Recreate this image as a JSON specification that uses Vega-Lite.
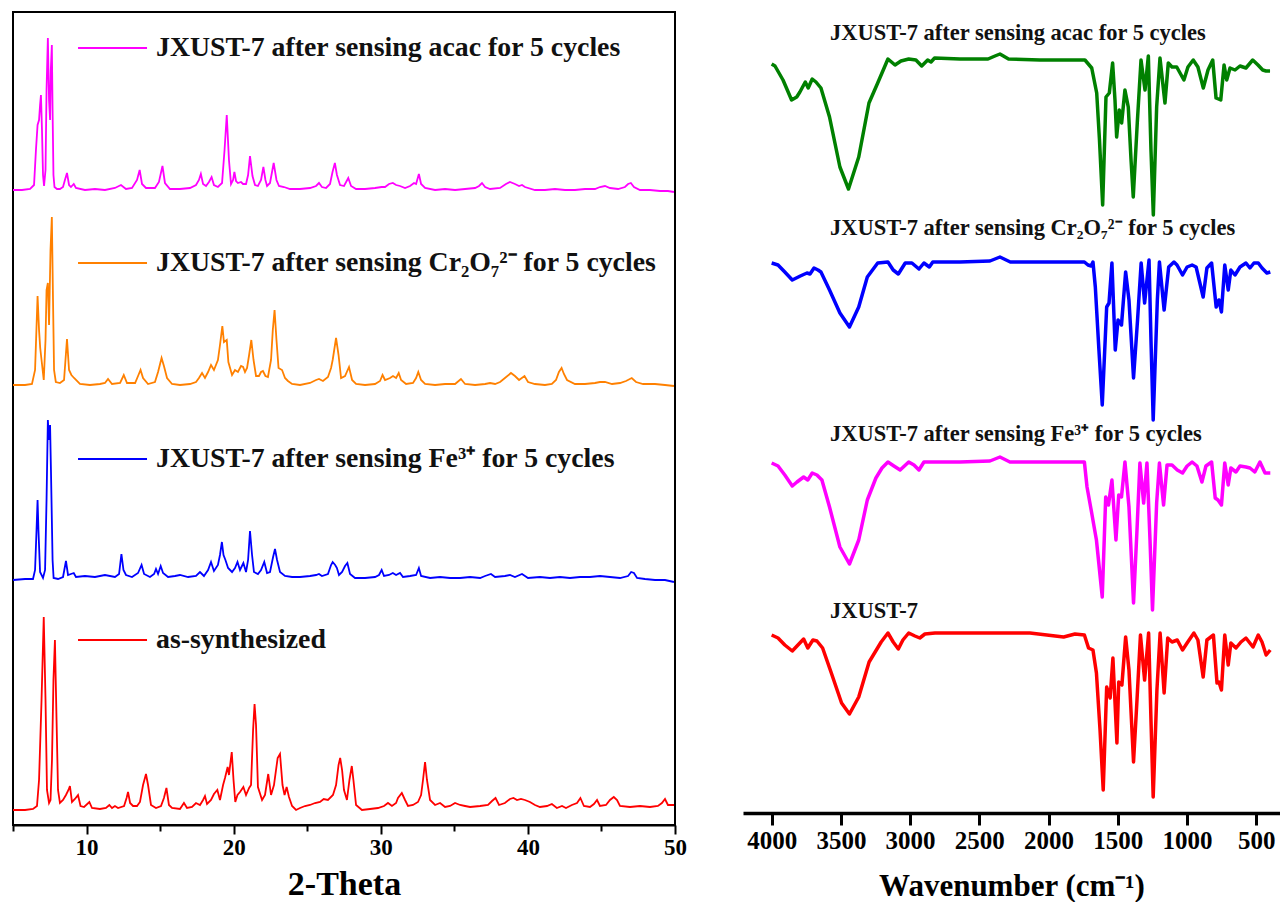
{
"$schema": "https://vega.github.io/schema/vega-lite/v6.json",
"background": "white",
"padding": {"left": 8, "top": 11, "right": 0, "bottom": 0},
"bounds": "flush",
"spacing": 68,
"config": {"font": "Liberation Serif", "text": {"font": "Liberation Serif"}},
"datasets": {
"xrd": [
{"s":"xa","t":5.00,"i":635},{"s":"xa","t":5.61,"i":635},{"s":"xa","t":6.16,"i":636},{"s":"xa","t":6.43,"i":640},{"s":"xa","t":6.56,"i":675},{"s":"xa","t":6.67,"i":700},{"s":"xa","t":6.77,"i":705},{"s":"xa","t":6.84,"i":720},{"s":"xa","t":6.90,"i":730},{"s":"xa","t":6.97,"i":695},{"s":"xa","t":7.04,"i":650},{"s":"xa","t":7.11,"i":639},{"s":"xa","t":7.21,"i":655},{"s":"xa","t":7.28,"i":735},{"s":"xa","t":7.37,"i":787},{"s":"xa","t":7.45,"i":725},{"s":"xa","t":7.52,"i":705},{"s":"xa","t":7.57,"i":755},{"s":"xa","t":7.64,"i":780},{"s":"xa","t":7.69,"i":715},{"s":"xa","t":7.75,"i":650},{"s":"xa","t":7.82,"i":638},{"s":"xa","t":7.99,"i":636},{"s":"xa","t":8.19,"i":636},{"s":"xa","t":8.40,"i":638},{"s":"xa","t":8.53,"i":645},{"s":"xa","t":8.67,"i":652},{"s":"xa","t":8.81,"i":640},{"s":"xa","t":8.94,"i":638},{"s":"xa","t":9.13,"i":641},{"s":"xa","t":9.28,"i":637},{"s":"xa","t":9.89,"i":635},{"s":"xa","t":10.57,"i":636},{"s":"xa","t":11.25,"i":635},{"s":"xa","t":11.93,"i":637},{"s":"xa","t":12.34,"i":640},{"s":"xa","t":12.68,"i":636},{"s":"xa","t":13.09,"i":637},{"s":"xa","t":13.43,"i":645},{"s":"xa","t":13.61,"i":655},{"s":"xa","t":13.77,"i":641},{"s":"xa","t":14.04,"i":637},{"s":"xa","t":14.65,"i":637},{"s":"xa","t":14.92,"i":643},{"s":"xa","t":15.16,"i":659},{"s":"xa","t":15.33,"i":642},{"s":"xa","t":15.67,"i":636},{"s":"xa","t":16.35,"i":636},{"s":"xa","t":17.03,"i":637},{"s":"xa","t":17.44,"i":640},{"s":"xa","t":17.64,"i":645},{"s":"xa","t":17.77,"i":651},{"s":"xa","t":17.92,"i":641},{"s":"xa","t":18.12,"i":639},{"s":"xa","t":18.32,"i":643},{"s":"xa","t":18.50,"i":648},{"s":"xa","t":18.66,"i":640},{"s":"xa","t":18.93,"i":638},{"s":"xa","t":19.21,"i":642},{"s":"xa","t":19.38,"i":675},{"s":"xa","t":19.53,"i":710},{"s":"xa","t":19.68,"i":665},{"s":"xa","t":19.82,"i":641},{"s":"xa","t":19.96,"i":645},{"s":"xa","t":20.05,"i":653},{"s":"xa","t":20.16,"i":644},{"s":"xa","t":20.29,"i":642},{"s":"xa","t":20.50,"i":643},{"s":"xa","t":20.64,"i":641},{"s":"xa","t":20.84,"i":641},{"s":"xa","t":20.98,"i":650},{"s":"xa","t":21.11,"i":669},{"s":"xa","t":21.28,"i":649},{"s":"xa","t":21.45,"i":640},{"s":"xa","t":21.65,"i":639},{"s":"xa","t":21.86,"i":645},{"s":"xa","t":22.02,"i":658},{"s":"xa","t":22.16,"i":645},{"s":"xa","t":22.27,"i":639},{"s":"xa","t":22.47,"i":642},{"s":"xa","t":22.72,"i":662},{"s":"xa","t":22.91,"i":645},{"s":"xa","t":23.08,"i":639},{"s":"xa","t":23.42,"i":638},{"s":"xa","t":23.83,"i":636},{"s":"xa","t":24.51,"i":636},{"s":"xa","t":25.19,"i":637},{"s":"xa","t":25.60,"i":639},{"s":"xa","t":25.80,"i":642},{"s":"xa","t":26.00,"i":638},{"s":"xa","t":26.28,"i":637},{"s":"xa","t":26.55,"i":641},{"s":"xa","t":26.72,"i":653},{"s":"xa","t":26.88,"i":662},{"s":"xa","t":27.02,"i":650},{"s":"xa","t":27.23,"i":640},{"s":"xa","t":27.50,"i":639},{"s":"xa","t":27.79,"i":647},{"s":"xa","t":27.98,"i":639},{"s":"xa","t":28.32,"i":636},{"s":"xa","t":28.93,"i":636},{"s":"xa","t":29.61,"i":637},{"s":"xa","t":30.06,"i":638},{"s":"xa","t":30.29,"i":638},{"s":"xa","t":30.56,"i":641},{"s":"xa","t":30.82,"i":642},{"s":"xa","t":31.04,"i":640},{"s":"xa","t":31.31,"i":639},{"s":"xa","t":31.65,"i":637},{"s":"xa","t":31.99,"i":639},{"s":"xa","t":32.26,"i":642},{"s":"xa","t":32.40,"i":641},{"s":"xa","t":32.59,"i":651},{"s":"xa","t":32.74,"i":641},{"s":"xa","t":33.01,"i":637},{"s":"xa","t":33.69,"i":635},{"s":"xa","t":34.37,"i":636},{"s":"xa","t":35.05,"i":635},{"s":"xa","t":35.73,"i":636},{"s":"xa","t":36.41,"i":637},{"s":"xa","t":36.68,"i":639},{"s":"xa","t":36.88,"i":642},{"s":"xa","t":37.09,"i":638},{"s":"xa","t":37.43,"i":636},{"s":"xa","t":38.11,"i":637},{"s":"xa","t":38.51,"i":641},{"s":"xa","t":38.78,"i":643},{"s":"xa","t":39.12,"i":641},{"s":"xa","t":39.40,"i":639},{"s":"xa","t":39.60,"i":640},{"s":"xa","t":39.80,"i":638},{"s":"xa","t":40.48,"i":635},{"s":"xa","t":41.16,"i":635},{"s":"xa","t":41.84,"i":636},{"s":"xa","t":42.52,"i":635},{"s":"xa","t":43.20,"i":635},{"s":"xa","t":43.88,"i":636},{"s":"xa","t":44.56,"i":636},{"s":"xa","t":44.90,"i":638},{"s":"xa","t":45.24,"i":639},{"s":"xa","t":45.58,"i":637},{"s":"xa","t":46.13,"i":636},{"s":"xa","t":46.60,"i":638},{"s":"xa","t":46.81,"i":641},{"s":"xa","t":47.00,"i":642},{"s":"xa","t":47.21,"i":638},{"s":"xa","t":47.62,"i":635},{"s":"xa","t":48.30,"i":635},{"s":"xa","t":48.98,"i":634},{"s":"xa","t":49.52,"i":634},{"s":"xa","t":49.93,"i":633},

{"s":"xc","t":5.00,"i":440},{"s":"xc","t":5.82,"i":440},{"s":"xc","t":6.29,"i":441},{"s":"xc","t":6.50,"i":455},{"s":"xc","t":6.67,"i":529},{"s":"xc","t":6.77,"i":495},{"s":"xc","t":6.85,"i":477},{"s":"xc","t":6.94,"i":465},{"s":"xc","t":7.09,"i":445},{"s":"xc","t":7.21,"i":485},{"s":"xc","t":7.28,"i":535},{"s":"xc","t":7.37,"i":542},{"s":"xc","t":7.45,"i":500},{"s":"xc","t":7.55,"i":575},{"s":"xc","t":7.64,"i":608},{"s":"xc","t":7.72,"i":525},{"s":"xc","t":7.79,"i":455},{"s":"xc","t":7.91,"i":443},{"s":"xc","t":8.19,"i":442},{"s":"xc","t":8.47,"i":445},{"s":"xc","t":8.67,"i":486},{"s":"xc","t":8.81,"i":455},{"s":"xc","t":8.97,"i":450},{"s":"xc","t":9.15,"i":447},{"s":"xc","t":9.55,"i":441},{"s":"xc","t":10.23,"i":440},{"s":"xc","t":10.91,"i":441},{"s":"xc","t":11.25,"i":442},{"s":"xc","t":11.46,"i":446},{"s":"xc","t":11.73,"i":441},{"s":"xc","t":12.28,"i":442},{"s":"xc","t":12.53,"i":450},{"s":"xc","t":12.75,"i":442},{"s":"xc","t":13.30,"i":442},{"s":"xc","t":13.50,"i":449},{"s":"xc","t":13.67,"i":455},{"s":"xc","t":13.84,"i":447},{"s":"xc","t":14.18,"i":441},{"s":"xc","t":14.65,"i":443},{"s":"xc","t":14.86,"i":453},{"s":"xc","t":15.10,"i":467},{"s":"xc","t":15.26,"i":459},{"s":"xc","t":15.47,"i":447},{"s":"xc","t":15.81,"i":441},{"s":"xc","t":16.35,"i":440},{"s":"xc","t":17.03,"i":441},{"s":"xc","t":17.44,"i":443},{"s":"xc","t":17.64,"i":447},{"s":"xc","t":17.85,"i":452},{"s":"xc","t":18.05,"i":447},{"s":"xc","t":18.26,"i":453},{"s":"xc","t":18.46,"i":460},{"s":"xc","t":18.66,"i":455},{"s":"xc","t":18.93,"i":465},{"s":"xc","t":19.07,"i":480},{"s":"xc","t":19.23,"i":499},{"s":"xc","t":19.34,"i":483},{"s":"xc","t":19.53,"i":485},{"s":"xc","t":19.64,"i":463},{"s":"xc","t":19.89,"i":450},{"s":"xc","t":20.09,"i":455},{"s":"xc","t":20.29,"i":453},{"s":"xc","t":20.50,"i":459},{"s":"xc","t":20.64,"i":458},{"s":"xc","t":20.77,"i":453},{"s":"xc","t":20.91,"i":457},{"s":"xc","t":21.05,"i":470},{"s":"xc","t":21.20,"i":485},{"s":"xc","t":21.35,"i":465},{"s":"xc","t":21.52,"i":449},{"s":"xc","t":21.72,"i":449},{"s":"xc","t":21.86,"i":453},{"s":"xc","t":21.99,"i":454},{"s":"xc","t":22.16,"i":449},{"s":"xc","t":22.33,"i":448},{"s":"xc","t":22.54,"i":465},{"s":"xc","t":22.66,"i":495},{"s":"xc","t":22.78,"i":515},{"s":"xc","t":22.91,"i":485},{"s":"xc","t":23.05,"i":457},{"s":"xc","t":23.29,"i":455},{"s":"xc","t":23.49,"i":447},{"s":"xc","t":23.69,"i":444},{"s":"xc","t":23.97,"i":441},{"s":"xc","t":24.51,"i":440},{"s":"xc","t":25.19,"i":442},{"s":"xc","t":25.60,"i":445},{"s":"xc","t":25.80,"i":446},{"s":"xc","t":26.07,"i":444},{"s":"xc","t":26.41,"i":448},{"s":"xc","t":26.62,"i":457},{"s":"xc","t":26.73,"i":465},{"s":"xc","t":26.96,"i":487},{"s":"xc","t":27.13,"i":470},{"s":"xc","t":27.30,"i":447},{"s":"xc","t":27.57,"i":449},{"s":"xc","t":27.84,"i":458},{"s":"xc","t":28.05,"i":445},{"s":"xc","t":28.32,"i":441},{"s":"xc","t":28.93,"i":440},{"s":"xc","t":29.61,"i":441},{"s":"xc","t":29.95,"i":444},{"s":"xc","t":30.12,"i":450},{"s":"xc","t":30.29,"i":445},{"s":"xc","t":30.63,"i":447},{"s":"xc","t":30.83,"i":449},{"s":"xc","t":31.04,"i":447},{"s":"xc","t":31.22,"i":452},{"s":"xc","t":31.38,"i":445},{"s":"xc","t":31.72,"i":441},{"s":"xc","t":32.19,"i":442},{"s":"xc","t":32.40,"i":447},{"s":"xc","t":32.55,"i":453},{"s":"xc","t":32.74,"i":445},{"s":"xc","t":33.01,"i":441},{"s":"xc","t":33.69,"i":440},{"s":"xc","t":34.37,"i":441},{"s":"xc","t":35.05,"i":441},{"s":"xc","t":35.45,"i":446},{"s":"xc","t":35.73,"i":441},{"s":"xc","t":36.41,"i":440},{"s":"xc","t":37.09,"i":441},{"s":"xc","t":37.43,"i":442},{"s":"xc","t":37.77,"i":441},{"s":"xc","t":38.11,"i":443},{"s":"xc","t":38.44,"i":447},{"s":"xc","t":38.85,"i":452},{"s":"xc","t":39.12,"i":449},{"s":"xc","t":39.40,"i":445},{"s":"xc","t":39.77,"i":449},{"s":"xc","t":40.01,"i":443},{"s":"xc","t":40.48,"i":441},{"s":"xc","t":41.16,"i":440},{"s":"xc","t":41.63,"i":441},{"s":"xc","t":41.91,"i":445},{"s":"xc","t":42.11,"i":453},{"s":"xc","t":42.29,"i":457},{"s":"xc","t":42.45,"i":451},{"s":"xc","t":42.66,"i":445},{"s":"xc","t":43.20,"i":441},{"s":"xc","t":43.88,"i":441},{"s":"xc","t":44.56,"i":442},{"s":"xc","t":44.90,"i":443},{"s":"xc","t":45.24,"i":443},{"s":"xc","t":45.72,"i":441},{"s":"xc","t":46.26,"i":442},{"s":"xc","t":46.67,"i":444},{"s":"xc","t":47.06,"i":447},{"s":"xc","t":47.35,"i":443},{"s":"xc","t":47.83,"i":441},{"s":"xc","t":48.64,"i":441},{"s":"xc","t":49.32,"i":440},{"s":"xc","t":49.93,"i":439},

{"s":"xf","t":5.00,"i":245},{"s":"xf","t":5.82,"i":246},{"s":"xf","t":6.36,"i":246},{"s":"xf","t":6.50,"i":255},{"s":"xf","t":6.60,"i":295},{"s":"xf","t":6.67,"i":325},{"s":"xf","t":6.73,"i":295},{"s":"xf","t":6.84,"i":253},{"s":"xf","t":7.04,"i":247},{"s":"xf","t":7.18,"i":255},{"s":"xf","t":7.28,"i":325},{"s":"xf","t":7.37,"i":405},{"s":"xf","t":7.45,"i":385},{"s":"xf","t":7.52,"i":400},{"s":"xf","t":7.58,"i":355},{"s":"xf","t":7.69,"i":265},{"s":"xf","t":7.76,"i":247},{"s":"xf","t":8.06,"i":246},{"s":"xf","t":8.40,"i":248},{"s":"xf","t":8.60,"i":264},{"s":"xf","t":8.74,"i":250},{"s":"xf","t":8.94,"i":251},{"s":"xf","t":9.13,"i":252},{"s":"xf","t":9.28,"i":248},{"s":"xf","t":9.89,"i":249},{"s":"xf","t":10.57,"i":248},{"s":"xf","t":11.25,"i":250},{"s":"xf","t":11.93,"i":248},{"s":"xf","t":12.21,"i":251},{"s":"xf","t":12.37,"i":271},{"s":"xf","t":12.51,"i":255},{"s":"xf","t":12.68,"i":250},{"s":"xf","t":13.09,"i":248},{"s":"xf","t":13.50,"i":252},{"s":"xf","t":13.74,"i":260},{"s":"xf","t":13.91,"i":251},{"s":"xf","t":14.31,"i":248},{"s":"xf","t":14.59,"i":251},{"s":"xf","t":14.72,"i":256},{"s":"xf","t":14.86,"i":251},{"s":"xf","t":15.04,"i":259},{"s":"xf","t":15.20,"i":252},{"s":"xf","t":15.54,"i":248},{"s":"xf","t":16.01,"i":249},{"s":"xf","t":16.35,"i":250},{"s":"xf","t":16.90,"i":248},{"s":"xf","t":17.44,"i":249},{"s":"xf","t":17.71,"i":253},{"s":"xf","t":17.98,"i":249},{"s":"xf","t":18.26,"i":255},{"s":"xf","t":18.46,"i":263},{"s":"xf","t":18.66,"i":254},{"s":"xf","t":18.93,"i":260},{"s":"xf","t":19.07,"i":270},{"s":"xf","t":19.20,"i":283},{"s":"xf","t":19.31,"i":270},{"s":"xf","t":19.44,"i":265},{"s":"xf","t":19.62,"i":257},{"s":"xf","t":19.89,"i":253},{"s":"xf","t":20.09,"i":257},{"s":"xf","t":20.26,"i":263},{"s":"xf","t":20.43,"i":255},{"s":"xf","t":20.66,"i":262},{"s":"xf","t":20.84,"i":253},{"s":"xf","t":20.98,"i":265},{"s":"xf","t":21.11,"i":294},{"s":"xf","t":21.25,"i":270},{"s":"xf","t":21.38,"i":253},{"s":"xf","t":21.65,"i":251},{"s":"xf","t":21.86,"i":255},{"s":"xf","t":22.08,"i":263},{"s":"xf","t":22.27,"i":252},{"s":"xf","t":22.47,"i":253},{"s":"xf","t":22.68,"i":268},{"s":"xf","t":22.81,"i":276},{"s":"xf","t":22.95,"i":265},{"s":"xf","t":23.15,"i":253},{"s":"xf","t":23.49,"i":249},{"s":"xf","t":23.97,"i":248},{"s":"xf","t":24.51,"i":248},{"s":"xf","t":25.19,"i":249},{"s":"xf","t":25.60,"i":250},{"s":"xf","t":25.80,"i":251},{"s":"xf","t":26.00,"i":249},{"s":"xf","t":26.41,"i":251},{"s":"xf","t":26.62,"i":260},{"s":"xf","t":26.73,"i":263},{"s":"xf","t":26.90,"i":260},{"s":"xf","t":27.02,"i":257},{"s":"xf","t":27.16,"i":250},{"s":"xf","t":27.37,"i":253},{"s":"xf","t":27.57,"i":259},{"s":"xf","t":27.73,"i":262},{"s":"xf","t":27.91,"i":251},{"s":"xf","t":28.25,"i":247},{"s":"xf","t":28.93,"i":247},{"s":"xf","t":29.61,"i":248},{"s":"xf","t":29.88,"i":250},{"s":"xf","t":30.06,"i":255},{"s":"xf","t":30.22,"i":249},{"s":"xf","t":30.56,"i":250},{"s":"xf","t":30.82,"i":252},{"s":"xf","t":31.04,"i":250},{"s":"xf","t":31.31,"i":252},{"s":"xf","t":31.51,"i":248},{"s":"xf","t":31.99,"i":249},{"s":"xf","t":32.40,"i":250},{"s":"xf","t":32.59,"i":257},{"s":"xf","t":32.74,"i":249},{"s":"xf","t":33.35,"i":247},{"s":"xf","t":34.03,"i":248},{"s":"xf","t":34.71,"i":247},{"s":"xf","t":35.39,"i":247},{"s":"xf","t":36.07,"i":248},{"s":"xf","t":36.75,"i":247},{"s":"xf","t":37.09,"i":249},{"s":"xf","t":37.49,"i":251},{"s":"xf","t":37.77,"i":248},{"s":"xf","t":38.44,"i":249},{"s":"xf","t":38.78,"i":250},{"s":"xf","t":39.12,"i":248},{"s":"xf","t":39.60,"i":251},{"s":"xf","t":40.01,"i":247},{"s":"xf","t":40.82,"i":248},{"s":"xf","t":41.50,"i":247},{"s":"xf","t":42.18,"i":248},{"s":"xf","t":42.86,"i":247},{"s":"xf","t":43.54,"i":248},{"s":"xf","t":44.22,"i":248},{"s":"xf","t":44.90,"i":249},{"s":"xf","t":45.58,"i":248},{"s":"xf","t":46.26,"i":247},{"s":"xf","t":46.81,"i":249},{"s":"xf","t":47.02,"i":253},{"s":"xf","t":47.21,"i":252},{"s":"xf","t":47.42,"i":247},{"s":"xf","t":47.96,"i":246},{"s":"xf","t":48.64,"i":245},{"s":"xf","t":49.32,"i":245},{"s":"xf","t":49.93,"i":243},

{"s":"xs","t":5.00,"i":15},{"s":"xs","t":5.82,"i":15},{"s":"xs","t":6.36,"i":16},{"s":"xs","t":6.63,"i":19},{"s":"xs","t":6.77,"i":45},{"s":"xs","t":6.94,"i":125},{"s":"xs","t":7.09,"i":208},{"s":"xs","t":7.21,"i":125},{"s":"xs","t":7.31,"i":35},{"s":"xs","t":7.45,"i":22},{"s":"xs","t":7.55,"i":25},{"s":"xs","t":7.65,"i":65},{"s":"xs","t":7.75,"i":145},{"s":"xs","t":7.85,"i":185},{"s":"xs","t":7.96,"i":105},{"s":"xs","t":8.06,"i":35},{"s":"xs","t":8.19,"i":22},{"s":"xs","t":8.40,"i":25},{"s":"xs","t":8.60,"i":30},{"s":"xs","t":8.77,"i":35},{"s":"xs","t":8.87,"i":39},{"s":"xs","t":9.01,"i":23},{"s":"xs","t":9.21,"i":26},{"s":"xs","t":9.42,"i":30},{"s":"xs","t":9.59,"i":19},{"s":"xs","t":9.83,"i":18},{"s":"xs","t":10.19,"i":23},{"s":"xs","t":10.37,"i":17},{"s":"xs","t":10.91,"i":16},{"s":"xs","t":11.32,"i":17},{"s":"xs","t":11.55,"i":20},{"s":"xs","t":11.73,"i":17},{"s":"xs","t":11.93,"i":19},{"s":"xs","t":12.14,"i":17},{"s":"xs","t":12.55,"i":19},{"s":"xs","t":12.72,"i":27},{"s":"xs","t":12.82,"i":33},{"s":"xs","t":12.96,"i":22},{"s":"xs","t":13.16,"i":19},{"s":"xs","t":13.43,"i":19},{"s":"xs","t":13.63,"i":23},{"s":"xs","t":13.84,"i":40},{"s":"xs","t":14.04,"i":51},{"s":"xs","t":14.18,"i":40},{"s":"xs","t":14.38,"i":20},{"s":"xs","t":14.72,"i":17},{"s":"xs","t":15.06,"i":19},{"s":"xs","t":15.26,"i":27},{"s":"xs","t":15.43,"i":37},{"s":"xs","t":15.60,"i":20},{"s":"xs","t":15.81,"i":17},{"s":"xs","t":16.35,"i":16},{"s":"xs","t":16.62,"i":22},{"s":"xs","t":16.83,"i":17},{"s":"xs","t":17.17,"i":18},{"s":"xs","t":17.44,"i":22},{"s":"xs","t":17.71,"i":20},{"s":"xs","t":17.92,"i":25},{"s":"xs","t":18.05,"i":29},{"s":"xs","t":18.19,"i":21},{"s":"xs","t":18.46,"i":25},{"s":"xs","t":18.66,"i":31},{"s":"xs","t":18.89,"i":35},{"s":"xs","t":19.07,"i":25},{"s":"xs","t":19.28,"i":40},{"s":"xs","t":19.41,"i":47},{"s":"xs","t":19.59,"i":58},{"s":"xs","t":19.68,"i":50},{"s":"xs","t":19.87,"i":73},{"s":"xs","t":19.99,"i":45},{"s":"xs","t":20.11,"i":23},{"s":"xs","t":20.26,"i":30},{"s":"xs","t":20.43,"i":33},{"s":"xs","t":20.66,"i":38},{"s":"xs","t":20.84,"i":30},{"s":"xs","t":21.05,"i":37},{"s":"xs","t":21.18,"i":40},{"s":"xs","t":21.32,"i":95},{"s":"xs","t":21.42,"i":121},{"s":"xs","t":21.52,"i":100},{"s":"xs","t":21.65,"i":38},{"s":"xs","t":21.93,"i":25},{"s":"xs","t":22.13,"i":30},{"s":"xs","t":22.35,"i":51},{"s":"xs","t":22.54,"i":30},{"s":"xs","t":22.74,"i":40},{"s":"xs","t":22.99,"i":67},{"s":"xs","t":23.15,"i":71},{"s":"xs","t":23.32,"i":40},{"s":"xs","t":23.46,"i":30},{"s":"xs","t":23.60,"i":38},{"s":"xs","t":23.76,"i":28},{"s":"xs","t":23.97,"i":19},{"s":"xs","t":24.24,"i":15},{"s":"xs","t":24.51,"i":17},{"s":"xs","t":24.85,"i":19},{"s":"xs","t":25.19,"i":20},{"s":"xs","t":25.53,"i":22},{"s":"xs","t":25.87,"i":23},{"s":"xs","t":26.12,"i":26},{"s":"xs","t":26.41,"i":25},{"s":"xs","t":26.75,"i":30},{"s":"xs","t":26.96,"i":40},{"s":"xs","t":27.13,"i":60},{"s":"xs","t":27.24,"i":67},{"s":"xs","t":27.37,"i":55},{"s":"xs","t":27.50,"i":35},{"s":"xs","t":27.70,"i":25},{"s":"xs","t":27.87,"i":45},{"s":"xs","t":28.03,"i":59},{"s":"xs","t":28.14,"i":45},{"s":"xs","t":28.32,"i":20},{"s":"xs","t":28.72,"i":15},{"s":"xs","t":29.27,"i":16},{"s":"xs","t":29.81,"i":17},{"s":"xs","t":30.22,"i":19},{"s":"xs","t":30.49,"i":22},{"s":"xs","t":30.76,"i":19},{"s":"xs","t":31.04,"i":22},{"s":"xs","t":31.17,"i":27},{"s":"xs","t":31.43,"i":32},{"s":"xs","t":31.65,"i":25},{"s":"xs","t":31.85,"i":19},{"s":"xs","t":32.19,"i":20},{"s":"xs","t":32.53,"i":23},{"s":"xs","t":32.74,"i":30},{"s":"xs","t":32.87,"i":45},{"s":"xs","t":33.01,"i":63},{"s":"xs","t":33.14,"i":45},{"s":"xs","t":33.35,"i":25},{"s":"xs","t":33.69,"i":20},{"s":"xs","t":34.03,"i":22},{"s":"xs","t":34.37,"i":18},{"s":"xs","t":34.71,"i":19},{"s":"xs","t":35.05,"i":22},{"s":"xs","t":35.39,"i":20},{"s":"xs","t":35.73,"i":19},{"s":"xs","t":36.07,"i":18},{"s":"xs","t":36.75,"i":19},{"s":"xs","t":37.29,"i":20},{"s":"xs","t":37.56,"i":24},{"s":"xs","t":37.80,"i":27},{"s":"xs","t":38.04,"i":20},{"s":"xs","t":38.44,"i":22},{"s":"xs","t":38.78,"i":26},{"s":"xs","t":39.02,"i":27},{"s":"xs","t":39.26,"i":25},{"s":"xs","t":39.53,"i":26},{"s":"xs","t":39.80,"i":25},{"s":"xs","t":40.14,"i":23},{"s":"xs","t":40.48,"i":20},{"s":"xs","t":40.82,"i":18},{"s":"xs","t":41.30,"i":19},{"s":"xs","t":41.63,"i":21},{"s":"xs","t":41.97,"i":17},{"s":"xs","t":42.32,"i":19},{"s":"xs","t":42.59,"i":17},{"s":"xs","t":42.99,"i":20},{"s":"xs","t":43.34,"i":22},{"s":"xs","t":43.57,"i":27},{"s":"xs","t":43.81,"i":19},{"s":"xs","t":44.22,"i":18},{"s":"xs","t":44.49,"i":21},{"s":"xs","t":44.70,"i":25},{"s":"xs","t":44.90,"i":19},{"s":"xs","t":45.31,"i":20},{"s":"xs","t":45.58,"i":25},{"s":"xs","t":45.84,"i":28},{"s":"xs","t":46.06,"i":25},{"s":"xs","t":46.26,"i":19},{"s":"xs","t":46.94,"i":18},{"s":"xs","t":47.62,"i":19},{"s":"xs","t":48.30,"i":18},{"s":"xs","t":48.84,"i":19},{"s":"xs","t":49.11,"i":22},{"s":"xs","t":49.32,"i":26},{"s":"xs","t":49.52,"i":20},{"s":"xs","t":49.93,"i":20}
],
"xrdLegend": [
{"s":"xa","label":"JXUST-7 after sensing acac for 5 cycles","x1":9.42,"x2":14.11,"y":777},
{"s":"xc","label":"JXUST-7 after sensing Cr₂O₇²⁻ for 5 cycles","x1":9.42,"x2":14.11,"y":562},
{"s":"xf","label":"JXUST-7 after sensing Fe³⁺ for 5 cycles","x1":9.42,"x2":14.11,"y":366},
{"s":"xs","label":"as-synthesized","x1":9.42,"x2":14.11,"y":185}
],
"ftir": [
{"s":"ia","w":4000,"a":749},{"s":"ia","w":3976,"a":747},{"s":"ia","w":3918,"a":733},{"s":"ia","w":3856,"a":713},{"s":"ia","w":3819,"a":716},{"s":"ia","w":3796,"a":721},{"s":"ia","w":3757,"a":731},{"s":"ia","w":3736,"a":725},{"s":"ia","w":3707,"a":734},{"s":"ia","w":3680,"a":731},{"s":"ia","w":3644,"a":725},{"s":"ia","w":3582,"a":696},{"s":"ia","w":3507,"a":646},{"s":"ia","w":3445,"a":624},{"s":"ia","w":3371,"a":656},{"s":"ia","w":3297,"a":710},{"s":"ia","w":3234,"a":730},{"s":"ia","w":3160,"a":754},{"s":"ia","w":3109,"a":748},{"s":"ia","w":3066,"a":752},{"s":"ia","w":3010,"a":754},{"s":"ia","w":2958,"a":753},{"s":"ia","w":2916,"a":747},{"s":"ia","w":2873,"a":753},{"s":"ia","w":2849,"a":751},{"s":"ia","w":2823,"a":755},{"s":"ia","w":2640,"a":754},{"s":"ia","w":2437,"a":754},{"s":"ia","w":2387,"a":757},{"s":"ia","w":2351,"a":759},{"s":"ia","w":2289,"a":754},{"s":"ia","w":2062,"a":753},{"s":"ia","w":1845,"a":753},{"s":"ia","w":1737,"a":753},{"s":"ia","w":1688,"a":745},{"s":"ia","w":1652,"a":720},{"s":"ia","w":1632,"a":673},{"s":"ia","w":1609,"a":608},{"s":"ia","w":1585,"a":716},{"s":"ia","w":1561,"a":720},{"s":"ia","w":1537,"a":750},{"s":"ia","w":1520,"a":713},{"s":"ia","w":1508,"a":676},{"s":"ia","w":1489,"a":703},{"s":"ia","w":1472,"a":690},{"s":"ia","w":1448,"a":723},{"s":"ia","w":1424,"a":706},{"s":"ia","w":1404,"a":653},{"s":"ia","w":1388,"a":616},{"s":"ia","w":1359,"a":690},{"s":"ia","w":1332,"a":753},{"s":"ia","w":1303,"a":723},{"s":"ia","w":1279,"a":757},{"s":"ia","w":1260,"a":663},{"s":"ia","w":1243,"a":598},{"s":"ia","w":1219,"a":706},{"s":"ia","w":1195,"a":755},{"s":"ia","w":1159,"a":710},{"s":"ia","w":1135,"a":750},{"s":"ia","w":1108,"a":746},{"s":"ia","w":1074,"a":746},{"s":"ia","w":1022,"a":733},{"s":"ia","w":993,"a":746},{"s":"ia","w":955,"a":753},{"s":"ia","w":921,"a":746},{"s":"ia","w":882,"a":725},{"s":"ia","w":848,"a":743},{"s":"ia","w":814,"a":753},{"s":"ia","w":790,"a":715},{"s":"ia","w":756,"a":713},{"s":"ia","w":732,"a":748},{"s":"ia","w":713,"a":733},{"s":"ia","w":689,"a":745},{"s":"ia","w":653,"a":743},{"s":"ia","w":617,"a":747},{"s":"ia","w":574,"a":745},{"s":"ia","w":525,"a":753},{"s":"ia","w":487,"a":748},{"s":"ia","w":453,"a":743},{"s":"ia","w":429,"a":742},{"s":"ia","w":400,"a":742},

{"s":"ic","w":4000,"a":550},{"s":"ic","w":3954,"a":548},{"s":"ic","w":3905,"a":541},{"s":"ic","w":3851,"a":533},{"s":"ic","w":3793,"a":537},{"s":"ic","w":3745,"a":540},{"s":"ic","w":3723,"a":539},{"s":"ic","w":3694,"a":545},{"s":"ic","w":3665,"a":543},{"s":"ic","w":3644,"a":541},{"s":"ic","w":3582,"a":523},{"s":"ic","w":3507,"a":500},{"s":"ic","w":3438,"a":486},{"s":"ic","w":3371,"a":506},{"s":"ic","w":3309,"a":536},{"s":"ic","w":3234,"a":550},{"s":"ic","w":3160,"a":551},{"s":"ic","w":3122,"a":543},{"s":"ic","w":3085,"a":539},{"s":"ic","w":3035,"a":550},{"s":"ic","w":2987,"a":550},{"s":"ic","w":2936,"a":544},{"s":"ic","w":2900,"a":550},{"s":"ic","w":2861,"a":546},{"s":"ic","w":2836,"a":551},{"s":"ic","w":2640,"a":551},{"s":"ic","w":2423,"a":552},{"s":"ic","w":2351,"a":556},{"s":"ic","w":2276,"a":551},{"s":"ic","w":2062,"a":551},{"s":"ic","w":1845,"a":551},{"s":"ic","w":1741,"a":551},{"s":"ic","w":1715,"a":548},{"s":"ic","w":1692,"a":547},{"s":"ic","w":1679,"a":551},{"s":"ic","w":1662,"a":526},{"s":"ic","w":1636,"a":463},{"s":"ic","w":1612,"a":408},{"s":"ic","w":1580,"a":506},{"s":"ic","w":1563,"a":510},{"s":"ic","w":1542,"a":550},{"s":"ic","w":1518,"a":463},{"s":"ic","w":1498,"a":493},{"s":"ic","w":1473,"a":488},{"s":"ic","w":1443,"a":541},{"s":"ic","w":1419,"a":513},{"s":"ic","w":1386,"a":435},{"s":"ic","w":1357,"a":493},{"s":"ic","w":1331,"a":550},{"s":"ic","w":1306,"a":510},{"s":"ic","w":1274,"a":553},{"s":"ic","w":1260,"a":473},{"s":"ic","w":1244,"a":393},{"s":"ic","w":1214,"a":513},{"s":"ic","w":1199,"a":551},{"s":"ic","w":1165,"a":503},{"s":"ic","w":1132,"a":546},{"s":"ic","w":1094,"a":551},{"s":"ic","w":1072,"a":548},{"s":"ic","w":1032,"a":538},{"s":"ic","w":999,"a":546},{"s":"ic","w":963,"a":548},{"s":"ic","w":934,"a":546},{"s":"ic","w":883,"a":516},{"s":"ic","w":856,"a":545},{"s":"ic","w":822,"a":550},{"s":"ic","w":789,"a":506},{"s":"ic","w":769,"a":513},{"s":"ic","w":751,"a":501},{"s":"ic","w":727,"a":548},{"s":"ic","w":702,"a":523},{"s":"ic","w":683,"a":543},{"s":"ic","w":653,"a":538},{"s":"ic","w":617,"a":546},{"s":"ic","w":574,"a":550},{"s":"ic","w":545,"a":545},{"s":"ic","w":516,"a":550},{"s":"ic","w":485,"a":550},{"s":"ic","w":458,"a":545},{"s":"ic","w":423,"a":540},{"s":"ic","w":398,"a":541},

{"s":"if","w":4000,"a":350},{"s":"if","w":3954,"a":347},{"s":"if","w":3905,"a":338},{"s":"if","w":3851,"a":327},{"s":"if","w":3817,"a":331},{"s":"if","w":3769,"a":336},{"s":"if","w":3739,"a":333},{"s":"if","w":3707,"a":340},{"s":"if","w":3673,"a":338},{"s":"if","w":3637,"a":333},{"s":"if","w":3582,"a":306},{"s":"if","w":3507,"a":266},{"s":"if","w":3438,"a":249},{"s":"if","w":3371,"a":273},{"s":"if","w":3309,"a":313},{"s":"if","w":3247,"a":335},{"s":"if","w":3203,"a":345},{"s":"if","w":3160,"a":351},{"s":"if","w":3117,"a":347},{"s":"if","w":3072,"a":343},{"s":"if","w":3010,"a":351},{"s":"if","w":2972,"a":348},{"s":"if","w":2936,"a":343},{"s":"if","w":2900,"a":351},{"s":"if","w":2823,"a":351},{"s":"if","w":2640,"a":351},{"s":"if","w":2423,"a":352},{"s":"if","w":2351,"a":356},{"s":"if","w":2279,"a":351},{"s":"if","w":2062,"a":351},{"s":"if","w":1845,"a":351},{"s":"if","w":1741,"a":351},{"s":"if","w":1722,"a":326},{"s":"if","w":1692,"a":303},{"s":"if","w":1654,"a":273},{"s":"if","w":1612,"a":216},{"s":"if","w":1587,"a":316},{"s":"if","w":1567,"a":308},{"s":"if","w":1542,"a":333},{"s":"if","w":1513,"a":273},{"s":"if","w":1493,"a":318},{"s":"if","w":1473,"a":316},{"s":"if","w":1448,"a":351},{"s":"if","w":1419,"a":306},{"s":"if","w":1386,"a":210},{"s":"if","w":1361,"a":283},{"s":"if","w":1340,"a":350},{"s":"if","w":1313,"a":310},{"s":"if","w":1289,"a":350},{"s":"if","w":1267,"a":273},{"s":"if","w":1249,"a":203},{"s":"if","w":1219,"a":310},{"s":"if","w":1199,"a":350},{"s":"if","w":1169,"a":308},{"s":"if","w":1144,"a":348},{"s":"if","w":1108,"a":348},{"s":"if","w":1070,"a":343},{"s":"if","w":1032,"a":340},{"s":"if","w":999,"a":347},{"s":"if","w":963,"a":351},{"s":"if","w":928,"a":347},{"s":"if","w":892,"a":331},{"s":"if","w":863,"a":347},{"s":"if","w":822,"a":351},{"s":"if","w":796,"a":315},{"s":"if","w":776,"a":313},{"s":"if","w":751,"a":308},{"s":"if","w":727,"a":350},{"s":"if","w":702,"a":328},{"s":"if","w":683,"a":345},{"s":"if","w":646,"a":341},{"s":"if","w":617,"a":347},{"s":"if","w":574,"a":346},{"s":"if","w":545,"a":345},{"s":"if","w":510,"a":341},{"s":"if","w":473,"a":351},{"s":"if","w":436,"a":340},{"s":"if","w":398,"a":340},

{"s":"ij","w":4000,"a":178},{"s":"ij","w":3954,"a":175},{"s":"ij","w":3905,"a":168},{"s":"ij","w":3851,"a":162},{"s":"ij","w":3817,"a":167},{"s":"ij","w":3769,"a":174},{"s":"ij","w":3739,"a":165},{"s":"ij","w":3702,"a":173},{"s":"ij","w":3673,"a":172},{"s":"ij","w":3632,"a":165},{"s":"ij","w":3569,"a":140},{"s":"ij","w":3495,"a":110},{"s":"ij","w":3438,"a":99},{"s":"ij","w":3371,"a":116},{"s":"ij","w":3296,"a":151},{"s":"ij","w":3209,"a":171},{"s":"ij","w":3160,"a":180},{"s":"ij","w":3122,"a":171},{"s":"ij","w":3085,"a":164},{"s":"ij","w":3052,"a":173},{"s":"ij","w":3010,"a":180},{"s":"ij","w":2965,"a":177},{"s":"ij","w":2930,"a":175},{"s":"ij","w":2893,"a":179},{"s":"ij","w":2820,"a":180},{"s":"ij","w":2640,"a":180},{"s":"ij","w":2338,"a":180},{"s":"ij","w":2134,"a":180},{"s":"ij","w":1891,"a":176},{"s":"ij","w":1809,"a":179},{"s":"ij","w":1741,"a":178},{"s":"ij","w":1711,"a":165},{"s":"ij","w":1679,"a":163},{"s":"ij","w":1654,"a":140},{"s":"ij","w":1628,"a":83},{"s":"ij","w":1605,"a":23},{"s":"ij","w":1580,"a":126},{"s":"ij","w":1555,"a":115},{"s":"ij","w":1535,"a":155},{"s":"ij","w":1506,"a":70},{"s":"ij","w":1493,"a":131},{"s":"ij","w":1470,"a":128},{"s":"ij","w":1443,"a":176},{"s":"ij","w":1419,"a":143},{"s":"ij","w":1386,"a":51},{"s":"ij","w":1361,"a":113},{"s":"ij","w":1336,"a":178},{"s":"ij","w":1306,"a":133},{"s":"ij","w":1277,"a":180},{"s":"ij","w":1260,"a":93},{"s":"ij","w":1244,"a":16},{"s":"ij","w":1217,"a":123},{"s":"ij","w":1194,"a":180},{"s":"ij","w":1165,"a":120},{"s":"ij","w":1139,"a":175},{"s":"ij","w":1108,"a":171},{"s":"ij","w":1070,"a":173},{"s":"ij","w":1032,"a":163},{"s":"ij","w":999,"a":170},{"s":"ij","w":950,"a":180},{"s":"ij","w":921,"a":173},{"s":"ij","w":883,"a":136},{"s":"ij","w":856,"a":173},{"s":"ij","w":809,"a":178},{"s":"ij","w":783,"a":130},{"s":"ij","w":769,"a":131},{"s":"ij","w":751,"a":123},{"s":"ij","w":727,"a":178},{"s":"ij","w":702,"a":148},{"s":"ij","w":683,"a":170},{"s":"ij","w":646,"a":165},{"s":"ij","w":610,"a":171},{"s":"ij","w":574,"a":175},{"s":"ij","w":523,"a":166},{"s":"ij","w":485,"a":178},{"s":"ij","w":458,"a":171},{"s":"ij","w":428,"a":158},{"s":"ij","w":398,"a":163}
],
"ftirLabels": [
{"label":"JXUST-7 after sensing acac for 5 cycles","w":3579,"a":780},
{"label":"JXUST-7 after sensing Cr₂O₇²⁻ for 5 cycles","w":3579,"a":585},
{"label":"JXUST-7 after sensing Fe³⁺ for 5 cycles","w":3579,"a":379},
{"label":"JXUST-7","w":3579,"a":202}
]
},
"hconcat": [
{
"width": 662,
"height": 813,
"view": {"stroke": "black", "strokeWidth": 2},
"layer": [
{
"data": {"name": "xrd"},
"mark": {"type": "line", "strokeWidth": 1.8, "interpolate": "linear"},
"encoding": {
"x": {"field": "t", "type": "quantitative",
"scale": {"domain": [5, 50], "nice": false, "zero": false},
"axis": {"title": "2-Theta", "titleFont": "Liberation Serif", "titleFontSize": 34, "titleFontWeight": "bold", "titleColor": "black", "titlePadding": 8,
"values": [5,10,15,20,25,30,35,40,45,50],
"labelExpr": "datum.value % 10 === 0 ? datum.label : ''",
"labelFont": "Liberation Serif", "labelFontSize": 23, "labelFontWeight": "bold", "labelColor": "black", "labelPadding": 2,
"labelFlush": false, "labelOverlap": false, "labelBound": false,
"tickSize": {"condition": {"test": "datum.value % 10 === 0", "value": 9}, "value": 6},
"tickWidth": 2, "tickColor": "black", "domainColor": "black", "domainWidth": 2, "grid": false}},
"y": {"field": "i", "type": "quantitative", "scale": {"domain": [0, 813], "nice": false, "zero": false}, "axis": null},
"color": {"field": "s", "type": "nominal", "legend": null,
"scale": {"domain": ["xa","xc","xf","xs","ia","ic","if","ij"], "range": ["#FF00FF","#FF8000","#0000FF","#FF0000","#008000","#0000FF","#FF00FF","#FF0000"]}}
}
},
{
"data": {"name": "xrdLegend"},
"mark": {"type": "rule", "strokeWidth": 2},
"encoding": {
"x": {"field": "x1", "type": "quantitative"},
"x2": {"field": "x2"},
"y": {"field": "y", "type": "quantitative", "axis": null},
"color": {"field": "s", "type": "nominal", "legend": null,
"scale": {"domain": ["xa","xc","xf","xs","ia","ic","if","ij"], "range": ["#FF00FF","#FF8000","#0000FF","#FF0000","#008000","#0000FF","#FF00FF","#FF0000"]}}
}
},
{
"data": {"name": "xrdLegend"},
"mark": {"type": "text", "align": "left", "baseline": "middle", "dx": 9, "font": "Liberation Serif", "fontWeight": "bold", "fontSize": 27.8, "color": "#111111"},
"encoding": {
"x": {"field": "x2", "type": "quantitative"},
"y": {"field": "y", "type": "quantitative", "axis": null},
"text": {"field": "label"}
}
}
]
},
{
"width": 537,
"height": 801,
"view": {"stroke": null},
"layer": [
{
"data": {"name": "ftir"},
"mark": {"type": "line", "strokeWidth": 3.5, "interpolate": "linear", "strokeJoin": "round"},
"encoding": {
"x": {"field": "w", "type": "quantitative",
"scale": {"domain": [4207, 328], "nice": false, "zero": false},
"axis": {"title": "Wavenumber (cm⁻¹)", "titleFont": "Liberation Serif", "titleFontSize": 31, "titleFontWeight": "bold", "titleColor": "black", "titlePadding": 18,
"values": [4000,3750,3500,3250,3000,2750,2500,2250,2000,1750,1500,1250,1000,750,500],
"format": "d",
"labelExpr": "datum.value % 500 === 0 ? datum.label : ''",
"labelFont": "Liberation Serif", "labelFontSize": 25, "labelFontWeight": "bold", "labelColor": "black", "labelPadding": 3,
"labelFlush": false, "labelOverlap": false, "labelBound": false,
"tickSize": {"condition": {"test": "datum.value % 500 === 0", "value": 12}, "value": 7},
"tickWidth": 3, "tickColor": "black", "domainColor": "black", "domainWidth": 3.5, "grid": false}},
"y": {"field": "a", "type": "quantitative", "scale": {"domain": [0, 801], "nice": false, "zero": false}, "axis": null},
"color": {"field": "s", "type": "nominal", "legend": null,
"scale": {"domain": ["xa","xc","xf","xs","ia","ic","if","ij"], "range": ["#FF00FF","#FF8000","#0000FF","#FF0000","#008000","#0000FF","#FF00FF","#FF0000"]}}
}
},
{
"data": {"name": "ftirLabels"},
"mark": {"type": "text", "align": "left", "baseline": "middle", "font": "Liberation Serif", "fontWeight": "bold", "fontSize": 22.5, "color": "#111111"},
"encoding": {
"x": {"field": "w", "type": "quantitative"},
"y": {"field": "a", "type": "quantitative", "axis": null},
"text": {"field": "label"}
}
}
]
}
]
}
